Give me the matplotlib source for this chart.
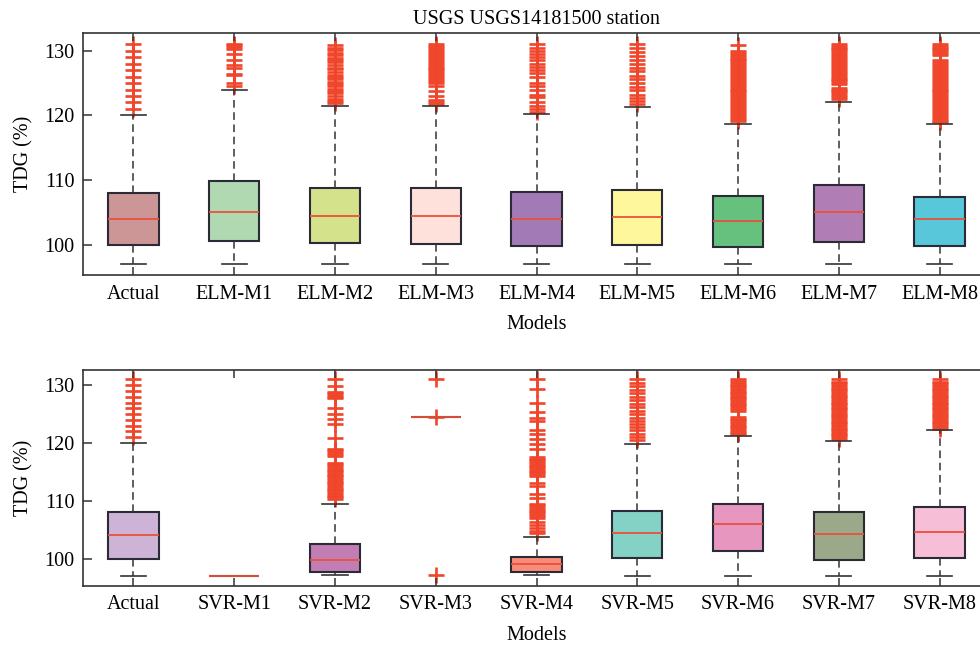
import matplotlib
matplotlib.use("Agg")
import matplotlib.pyplot as plt

plt.rcParams['font.family'] = ['Liberation Serif', 'DejaVu Serif']
plt.rcParams['font.size'] = 14.5

title = 'USGS USGS14181500 station'

# ---------------- top panel: ELM models ----------------
elm_labels = ['Actual', 'ELM-M1', 'ELM-M2', 'ELM-M3', 'ELM-M4',
              'ELM-M5', 'ELM-M6', 'ELM-M7', 'ELM-M8']
elm_q1 = [100.0, 100.5, 100.2, 100.1, 99.8, 100.0, 99.7, 100.4, 99.8]
elm_med = [104.0, 105.1, 104.5, 104.4, 104.0, 104.2, 103.6, 105.1, 103.9]
elm_q3 = [108.0, 109.9, 108.8, 108.8, 108.2, 108.5, 107.5, 109.3, 107.4]
elm_lo = [97.0, 97.0, 97.0, 97.0, 97.0, 97.0, 97.0, 97.0, 97.0]
elm_hi = [120.0, 123.9, 121.5, 121.5, 120.2, 121.3, 118.7, 122.0, 118.7]
elm_colors = ['#CD9696', '#B0D9B2', '#D4E28C', '#FFE1DC', '#A27BB6',
              '#FFF79C', '#66C17E', '#B07EB5', '#57C7D9']

elm_out = [
    [121, 122, 123, 124, 125, 126, 127, 128, 129, 130, 131],
    [124.6, 125.0, 126.2, 126.4, 127.4, 127.8, 128.5, 129.5, 130.3, 130.6,
     130.9, 131.1],
    [121.9, 122.2, 122.6, 123.0, 123.4, 123.8, 124.1, 124.5, 124.9, 125.2,
     125.6, 126.0, 126.3, 126.7, 127.1, 127.4, 127.8, 128.2, 128.6, 128.9,
     129.3, 129.7, 130.1, 130.5, 130.9],
    [121.8, 122.1, 122.4, 123.0, 123.7, 124.6, 125.0, 125.3, 125.6, 125.9,
     126.2, 126.5, 126.8, 127.1, 127.4, 127.7, 128.0, 128.3, 128.6, 128.9,
     129.2, 129.5, 129.8, 130.1, 130.4, 130.7, 131.0],
    [120.6, 121.0, 121.5, 122.0, 122.8, 123.2, 124.0, 124.5, 125.0, 126.0,
     126.5, 127.0, 127.5, 128.0, 128.6, 129.0, 129.5, 130.0, 130.5, 131.0],
    [121.7, 122.2, 122.7, 123.2, 123.9, 124.4, 125.0, 125.6, 126.1, 126.8,
     127.4, 128.0, 128.6, 129.2, 129.8, 130.4, 131.0],
    [119.2, 119.5, 119.8, 120.1, 120.4, 120.7, 121.0, 121.3, 121.6, 121.9,
     122.2, 122.5, 122.8, 123.1, 123.4, 123.7, 124.0, 124.3, 124.6, 124.9,
     125.2, 125.5, 125.8, 126.1, 126.4, 126.7, 127.0, 127.3, 127.6, 127.9,
     128.2, 128.5, 128.8, 129.1, 129.4, 129.7, 130.0, 130.9],
    [122.5, 122.8, 123.1, 123.4, 123.7, 124.0, 124.2, 124.8, 125.1, 125.4,
     125.7, 126.0, 126.3, 126.6, 126.9, 127.2, 127.5, 127.8, 128.1, 128.4,
     128.7, 129.0, 129.3, 129.6, 129.9, 130.2, 130.5, 130.8, 131.0],
    [118.9, 119.2, 119.5, 119.8, 120.1, 120.4, 120.7, 121.0, 121.3, 121.6,
     121.9, 122.2, 122.5, 122.8, 123.1, 123.4, 123.7, 124.0, 124.3, 124.6,
     124.9, 125.2, 125.5, 125.8, 126.1, 126.4, 126.7, 127.0, 127.3, 127.6,
     127.9, 128.2, 128.5, 129.3, 129.6, 129.9, 130.2, 130.5, 130.8, 131.0],
]

# ---------------- bottom panel: SVR models ----------------
svr_labels = ['Actual', 'SVR-M1', 'SVR-M2', 'SVR-M3', 'SVR-M4',
              'SVR-M5', 'SVR-M6', 'SVR-M7', 'SVR-M8']
svr_q1 = [100.0, 97.0, 97.7, 124.5, 97.75, 100.1, 101.35, 99.7, 100.1]
svr_med = [104.0, 97.0, 99.7, 124.5, 99.0, 104.4, 105.9, 104.3, 104.6]
svr_q3 = [108.0, 97.0, 102.6, 124.5, 100.35, 108.3, 109.4, 108.0, 109.0]
svr_lo = [97.0, 97.0, 97.1, 124.5, 97.2, 97.0, 97.0, 97.0, 97.0]
svr_hi = [120.0, 97.0, 109.4, 124.5, 103.8, 119.9, 121.2, 120.3, 122.2]
svr_colors = ['#CDB4D6', '#CCCCCC', '#C17DB4', '#CCCCCC', '#F98C78',
              '#84D1C6', '#E796C0', '#9BA98A', '#F7BED8']

svr_out = [
    [121, 122, 123, 124, 125, 126, 127, 128, 129, 130, 131],
    [],
    [110.3, 110.6, 110.9, 111.2, 111.5, 111.8, 112.1, 112.4, 112.7, 113.0,
     113.3, 113.6, 113.9, 114.2, 114.5, 114.8, 115.1, 115.4, 115.7, 116.0,
     116.3, 116.6, 117.8, 118.1, 118.4, 118.7, 118.9, 120.8, 123.2, 124.1,
     125.0, 126.1, 127.8, 128.0, 128.3, 128.6, 128.9, 129.8, 131.0],
    [97.1, 124.5, 131.0],
    [104.4, 104.8, 105.3, 105.8, 106.4, 107.1, 107.4, 107.7, 108.0, 108.3,
     108.6, 108.9, 109.2, 109.4, 110.5, 111.2, 112.5, 113.0, 114.3, 114.6,
     114.9, 115.2, 115.5, 115.8, 116.1, 116.4, 116.7, 117.0, 117.3, 117.5,
     119.0, 119.9, 120.7, 121.5, 122.2, 123.8, 124.4, 125.4, 126.9, 129.3,
     131.0],
    [120.5, 121.1, 121.6, 122.2, 122.7, 123.3, 123.8, 124.4, 125.0, 125.6,
     126.2, 126.8, 127.4, 128.0, 128.6, 129.2, 129.8, 130.4, 131.0],
    [121.5, 121.8, 122.1, 122.4, 122.7, 123.0, 123.3, 123.6, 123.9, 124.2,
     124.5, 125.6, 125.9, 126.2, 126.5, 126.8, 127.1, 127.4, 127.7, 128.0,
     128.3, 128.6, 128.9, 129.2, 129.5, 129.8, 130.1, 130.4, 130.7, 131.0],
    [120.7, 121.0, 121.3, 121.6, 121.9, 122.2, 122.5, 122.8, 123.1, 123.4,
     123.7, 124.0, 124.3, 124.6, 124.9, 125.2, 125.5, 125.8, 126.1, 126.4,
     126.7, 127.0, 127.3, 127.6, 127.9, 128.2, 128.5, 128.8, 129.1, 129.4,
     129.7, 130.0, 130.3, 130.6, 131.0],
    [122.5, 122.8, 123.1, 123.4, 123.7, 124.0, 124.3, 124.6, 124.9, 125.2,
     125.5, 125.8, 126.1, 126.4, 126.7, 127.0, 127.3, 127.6, 127.9, 128.2,
     128.5, 128.8, 129.1, 129.4, 129.7, 130.0, 130.3, 130.6, 131.0],
]


def draw_panel(ax, labels, q1, med, q3, lo, hi, outs, colors):
    stats = []
    for i in range(len(labels)):
        stats.append({'label': labels[i], 'q1': q1[i], 'med': med[i],
                      'q3': q3[i], 'whislo': lo[i], 'whishi': hi[i],
                      'fliers': outs[i]})
    bp = ax.bxp(stats, positions=range(1, len(labels) + 1), widths=0.5,
                capwidths=0.25, patch_artist=True, showfliers=True,
                boxprops=dict(edgecolor='#2b2b38', linewidth=1.5),
                medianprops=dict(color='#E8513A', linewidth=1.3),
                whiskerprops=dict(color='#333333', linewidth=1.1,
                                  linestyle=(0, (5, 3))),
                capprops=dict(color='#333333', linewidth=1.2),
                flierprops=dict(marker='+', markeredgecolor='#F0452A',
                                markersize=11, markeredgewidth=1.9,
                                linestyle='none'))
    for patch, c in zip(bp['boxes'], colors):
        patch.set_facecolor(c)
    for fl in bp['fliers']:
        fl.set_zorder(1.5)

    ax.set_xlim(0.5, len(labels) + 0.5)
    ax.set_ylim(95.3, 132.7)
    ax.set_yticks([100, 110, 120, 130])
    ax.set_xticks(range(1, len(labels) + 1))
    ax.set_xticklabels(labels)
    ax.tick_params(axis='x', direction='in', top=True, length=6,
                   width=1.1, color='#333333', pad=7)
    ax.tick_params(axis='y', direction='in', length=6.5, width=1.1,
                   color='#333333', pad=6)
    for s in ax.spines.values():
        s.set_color('#333333')
        s.set_linewidth(1.2)
    ax.set_xlabel('Models', labelpad=8)
    ax.set_ylabel('TDG (%)', labelpad=8)


fig = plt.figure(figsize=(9.8, 6.48), dpi=100)
ax1 = fig.add_axes([0.0847, 0.5756, 0.9255, 0.373])
ax2 = fig.add_axes([0.0847, 0.0961, 0.9255, 0.3336])

draw_panel(ax1, elm_labels, elm_q1, elm_med, elm_q3, elm_lo, elm_hi,
           elm_out, elm_colors)
draw_panel(ax2, svr_labels, svr_q1, svr_med, svr_q3, svr_lo, svr_hi,
           svr_out, svr_colors)
ax1.set_title(title, fontsize=14.5, pad=7)

fig.savefig('out.png', dpi=100)
